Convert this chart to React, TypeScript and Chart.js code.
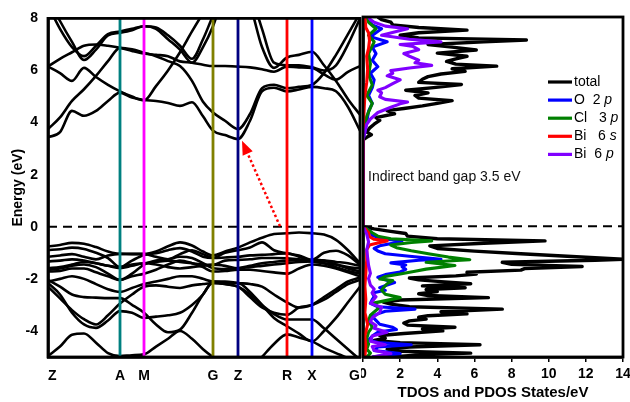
import React, { useEffect, useRef } from 'react';
import { Chart, registerables } from 'chart.js';

Chart.register(...registerables);

const FONT = "Arial, 'Liberation Sans', Helvetica, sans-serif";

// ---------- band structure ----------
const E_MIN = -5;
const E_MAX = 8;
const Y_TICKS = [-4, -2, 0, 2, 4, 6, 8];

const K_POINTS = [0, 72, 96, 165, 190, 239, 264, 312];
const K_LABELS = ['Z', 'A', 'M', 'G', 'Z', 'R', 'X', 'G'];
const K_GRID = [0, 12, 24, 36, 48, 60, 72, 84, 96, 108, 120, 132, 144, 155, 165, 177, 190, 202, 214, 226, 239, 251, 264, 276, 288, 300, 312];

const CB1 = [3.44, 3.63, 4.45, 4.26, 4.45, 4.83, 5.15, 4.96, 4.87, 4.83, 4.75, 4.64, 4.78, 4.24, 3.69, 3.52, 3.37, 4.07, 5.2, 5.34, 5.2, 5.27, 5.37, 5.32, 5.2, 4.6, 3.69];
const CB2 = [3.75, 4.2, 4.83, 5.28, 5.79, 6.36, 6.87, 6.81, 6.68, 6.55, 6.36, 6.17, 5.6, 4.8, 4.39, 4.07, 3.75, 4.33, 5.32, 5.45, 5.32, 5.37, 5.45, 5.9, 6.6, 7.4, 8.2];
const CB3 = [6.15, 5.9, 5.6, 6.1, 5.75, 5.45, 5.2, 5.0, 4.85, 5.4, 6.0, 6.7, 7.5, 8.2, 8.8, 9.2, 9.2, 8.5, 6.9, 6.1, 6.5, 6.6, 6.72, 6.2, 5.6, 4.9, 4.3];
const CB4 = [6.15, 6.45, 6.7, 6.95, 7.0, 6.95, 6.87, 6.75, 6.65, 6.6, 6.55, 6.35, 6.3, 6.22, 6.17, 6.17, 6.15, 6.12, 6.05, 5.95, 6.15, 6.12, 6.1, 5.85, 5.65, 5.95, 6.17];
const CB5 = [8.5, 7.6, 6.9, 6.55, 6.95, 7.4, 7.5, 7.6, 7.7, 7.65, 7.35, 6.95, 6.45, 7.2, 8.1, 9, 9.5, 9.0, 7.6, 6.3, 6.2, 6.2, 6.12, 6.0, 6.2, 7.0, 8.0];
const CB6 = [8.8, 7.9, 7.1, 6.4, 6.8, 7.35, 7.45, 7.55, 7.7, 7.6, 7.2, 6.8, 6.3, 6.9, 7.7, 9, 9.5, 9.5, 9.5, 9.5, 9.5, 9.5, 9.5, 9.5, 9.5, 9.5, 9.5];

const VB1 = [-0.76, -0.7, -0.62, -0.65, -0.78, -0.95, -1.04, -1.04, -1.04, -0.95, -0.75, -0.6, -0.72, -0.95, -1.1, -0.95, -0.8, -0.6, -0.42, -0.28, -0.25, -0.22, -0.25, -0.3, -0.5, -0.9, -1.4];
const VB2 = [-0.89, -0.86, -0.8, -0.85, -1.0, -1.2, -1.55, -1.3, -1.08, -1.02, -0.9, -0.82, -0.95, -1.15, -1.2, -1.0, -0.9, -0.8, -0.6, -0.9, -1.02, -1.1, -1.27, -1.0, -0.92, -1.1, -1.46];
const VB3 = [-1.15, -1.1, -1.05, -1.15, -1.25, -1.1, -1.04, -1.05, -1.05, -1.15, -1.25, -1.05, -0.9, -1.05, -1.2, -1.18, -1.15, -1.1, -1.08, -1.05, -1.02, -1.15, -1.3, -1.3, -1.35, -1.4, -1.5];
const VB4 = [-1.33, -1.3, -1.25, -1.3, -1.4, -1.5, -1.55, -1.45, -1.4, -1.35, -1.3, -1.35, -1.4, -1.45, -1.46, -1.3, -1.27, -1.25, -1.2, -1.2, -1.21, -1.25, -1.33, -1.4, -1.45, -1.55, -1.6];
const VB5 = [-1.65, -1.6, -1.5, -1.45, -1.55, -1.8, -2.04, -1.8, -1.45, -1.3, -1.25, -1.15, -1.2, -1.4, -1.59, -1.62, -1.59, -1.5, -1.4, -1.35, -1.3, -1.28, -1.27, -1.3, -1.45, -1.6, -1.72];
const VB6 = [-1.72, -1.7, -1.6, -1.6, -1.75, -1.9, -2.04, -1.9, -1.8, -1.65, -1.45, -1.3, -1.4, -1.55, -1.72, -1.7, -1.65, -1.65, -1.7, -1.75, -1.8, -1.6, -1.45, -1.5, -1.6, -1.75, -1.9];
const VB7 = [-2.04, -2.3, -2.6, -2.7, -2.72, -2.74, -2.74, -3.0, -3.3, -3.75, -4.05, -3.95, -3.3, -2.6, -2.16, -2.2, -2.3, -2.6, -3.0, -3.35, -3.56, -3.56, -3.56, -3.9, -4.3, -4.7, -5.1];
const VB8 = [-2.16, -2.6, -3.3, -3.75, -3.88, -3.6, -3.24, -3.3, -3.5, -3.45, -3.4, -3.3, -3.0, -2.6, -2.1, -2.15, -2.16, -2.5, -3.0, -3.5, -3.82, -4.1, -4.4, -4.0, -3.5, -2.9, -2.3];
const VB9 = [-2.3, -2.75, -3.2, -3.55, -3.75, -3.4, -2.95, -2.6, -2.3, -2.25, -2.3, -2.35, -2.25, -2.2, -2.16, -2.2, -2.3, -2.7, -3.1, -3.3, -3.38, -3.1, -3.0, -2.7, -2.4, -2.1, -1.95];
const VB10 = [-4.96, -4.6, -4.15, -4.1, -4.45, -4.85, -4.96, -4.93, -4.9, -4.6, -4.3, -4.0, -4.3, -4.7, -5.0, -5.3, -5.6, -5.5, -5.0, -4.5, -4.13, -4.25, -4.4, -4.65, -4.85, -5.05, -5.3];
const VB11 = [-1.59, -1.55, -1.45, -1.35, -1.4, -1.5, -1.59, -1.5, -1.4, -1.45, -1.55, -1.6, -1.55, -1.5, -1.46, -1.5, -1.59, -1.55, -1.5, -1.45, -1.4, -1.35, -1.33, -1.4, -1.55, -1.7, -1.8];
const VB12 = [-2.1, -2.0, -1.9, -2.0, -2.2, -2.4, -2.5, -2.35, -2.2, -2.1, -2.0, -1.9, -1.9, -2.0, -2.1, -2.1, -2.16, -2.2, -2.3, -2.6, -2.9, -3.1, -3.0, -2.8, -2.5, -2.2, -2.04];

const BANDS = [CB1, CB2, CB3, CB4, CB5, CB6, VB1, VB2, VB3, VB4, VB5, VB6, VB7, VB8, VB9, VB10, VB11, VB12];

// high-symmetry vertical lines (A, M, G, Z, R, X)
const VLINE_K = [72, 96, 165, 190, 239, 264];
const VLINE_COLORS = ['#008080', '#ff00ff', '#808000', '#000080', '#ff0000', '#0000ff'];

// indirect gap arrow (k, E)
const ARROW_FROM = [232, 0.02];
const ARROW_TO = [194, 3.3];

// ---------- density of states: [energy (eV), states/eV] ----------
const DOS_MAX = 14;

const DOS_TOTAL = [
  [-5.0, 1.5], [-4.92, 3.0], [-4.85, 5.8], [-4.78, 2.0], [-4.7, 1.3], [-4.62, 2.5], [-4.53, 6.3], [-4.45, 2.0],
  [-4.37, 0.6], [-4.28, 1.2], [-4.18, 0.9], [-4.1, 2.2], [-4.0, 4.3], [-3.93, 3.2], [-3.86, 4.95], [-3.78, 2.4],
  [-3.7, 2.2], [-3.62, 2.5], [-3.55, 3.4], [-3.48, 3.0], [-3.42, 3.5], [-3.35, 5.6], [-3.27, 4.2], [-3.17, 7.5],
  [-3.08, 2.5], [-2.98, 1.5], [-2.9, 1.1], [-2.82, 2.0], [-2.73, 6.75], [-2.65, 3.5], [-2.58, 3.0], [-2.5, 4.0],
  [-2.42, 3.4], [-2.35, 5.5], [-2.28, 3.2], [-2.2, 5.8], [-2.12, 4.2], [-2.05, 3.0], [-1.98, 2.5], [-1.9, 5.0],
  [-1.83, 6.1], [-1.76, 5.6], [-1.68, 8.5], [-1.62, 8.7], [-1.54, 11.8], [-1.46, 8.0], [-1.38, 7.5], [-1.3, 12.5],
  [-1.26, 14.0], [-1.15, 11.0], [-1.05, 8.5], [-0.95, 6.0], [-0.85, 4.0], [-0.75, 3.6], [-0.65, 6.5], [-0.56, 9.8],
  [-0.48, 4.0], [-0.38, 2.4], [-0.28, 2.3], [-0.18, 1.3], [-0.1, 0.6], [-0.02, 0], [3.3, 0], [3.4, 0.2],
  [3.5, 0.45], [3.6, 0.2], [3.75, 0.35], [3.9, 0.6], [4.05, 0.9], [4.15, 0.7], [4.3, 1.7], [4.42, 1.3],
  [4.5, 2.2], [4.6, 3.2], [4.7, 4.0], [4.8, 4.8], [4.9, 3.0], [5.0, 2.8], [5.1, 3.5], [5.2, 2.3],
  [5.3, 3.8], [5.42, 5.3], [5.5, 3.0], [5.62, 3.2], [5.72, 3.5], [5.82, 4.2], [5.92, 5.5], [6.02, 4.8],
  [6.12, 7.2], [6.2, 5.0], [6.3, 4.5], [6.4, 5.0], [6.5, 5.6], [6.62, 4.0], [6.74, 6.1], [6.85, 4.8],
  [6.95, 3.5], [7.05, 6.5], [7.12, 8.8], [7.2, 3.0], [7.3, 2.0], [7.4, 3.0], [7.5, 5.6], [7.6, 3.0],
  [7.7, 1.6], [7.8, 1.5], [7.9, 1.0], [8.0, 0.8],
];

const DOS_O2P = [
  [-5.0, 0.5], [-4.87, 2.0], [-4.75, 0.6], [-4.62, 0.8], [-4.53, 2.6], [-4.45, 0.8], [-4.35, 0.3], [-4.2, 0.5],
  [-4.05, 0.8], [-3.95, 1.8], [-3.86, 1.6], [-3.75, 0.9], [-3.6, 0.7], [-3.45, 0.5], [-3.35, 0.8], [-3.25, 1.2],
  [-3.17, 2.8], [-3.08, 0.8], [-2.95, 0.4], [-2.8, 0.5], [-2.7, 0.6], [-2.55, 0.5], [-2.45, 1.2], [-2.35, 0.9],
  [-2.25, 1.3], [-2.15, 1.7], [-2.05, 1.2], [-1.95, 0.8], [-1.85, 1.2], [-1.75, 2.0], [-1.65, 2.3], [-1.55, 2.1],
  [-1.48, 2.3], [-1.4, 1.5], [-1.3, 3.0], [-1.26, 4.2], [-1.15, 2.5], [-1.05, 1.2], [-0.95, 0.8], [-0.85, 0.6],
  [-0.75, 0.9], [-0.65, 1.6], [-0.56, 2.1], [-0.48, 1.0], [-0.35, 0.5], [-0.2, 0.4], [-0.05, 0.1], [0, 0],
  [3.3, 0], [3.6, 0.1], [4.0, 0.2], [4.4, 0.3], [4.7, 0.5], [5.0, 0.3], [5.3, 0.5], [5.6, 0.6],
  [5.85, 0.4], [6.1, 0.8], [6.35, 0.5], [6.6, 0.7], [6.85, 0.5], [7.05, 1.3], [7.25, 0.4], [7.5, 0.9],
  [7.55, 1.0], [7.7, 0.5], [7.9, 0.3], [8.0, 0.2],
];

const DOS_CL3P = [
  [-5.0, 0.2], [-4.85, 0.4], [-4.7, 0.2], [-4.5, 0.3], [-4.3, 0.2], [-4.05, 0.3], [-3.86, 0.5], [-3.6, 0.3],
  [-3.4, 0.4], [-3.1, 0.9], [-2.95, 0.5], [-2.73, 2.0], [-2.6, 1.2], [-2.45, 1.0], [-2.35, 1.1], [-2.2, 1.3],
  [-2.08, 1.6], [-2.02, 0.9], [-1.92, 1.2], [-1.83, 2.0], [-1.72, 2.8], [-1.64, 3.4], [-1.5, 4.95], [-1.38, 3.4],
  [-1.28, 5.75], [-1.18, 4.6], [-1.06, 3.6], [-0.94, 2.6], [-0.82, 1.8], [-0.72, 1.5], [-0.62, 2.6], [-0.56, 3.7],
  [-0.48, 1.5], [-0.38, 0.8], [-0.25, 0.5], [-0.1, 0.2], [0, 0], [3.3, 0], [3.8, 0.1], [4.2, 0.2],
  [4.7, 0.5], [5.0, 0.2], [5.4, 0.5], [5.8, 0.3], [6.2, 0.4], [6.6, 0.3], [7.05, 0.6], [7.3, 0.3],
  [7.55, 0.7], [7.8, 0.3], [8.0, 0.2],
];

const DOS_BI6S = [
  [-5.0, 0.1], [-4.6, 0.15], [-4.2, 0.1], [-3.75, 0.25], [-3.3, 0.1], [-2.8, 0.15], [-2.3, 0.1], [-1.8, 0.15],
  [-1.3, 0.2], [-0.9, 0.2], [-0.72, 0.35], [-0.62, 0.9], [-0.56, 1.3], [-0.5, 0.6], [-0.4, 0.35], [-0.25, 0.3],
  [-0.12, 0.15], [0, 0], [3.3, 0], [4.0, 0.05], [5.0, 0.1], [5.5, 0.2], [6.0, 0.25], [6.5, 0.2],
  [6.8, 0.3], [7.1, 0.35], [7.4, 0.3], [7.6, 0.15], [8.0, 0.1],
];

const DOS_BI6P = [
  [-5.0, 0.5], [-4.87, 1.5], [-4.75, 0.6], [-4.6, 0.5], [-4.53, 1.2], [-4.4, 0.4], [-4.2, 0.5], [-4.05, 1.3],
  [-3.9, 0.6], [-3.8, 0.7], [-3.65, 0.4], [-3.5, 0.5], [-3.3, 0.9], [-3.1, 1.0], [-2.95, 0.4], [-2.7, 0.7],
  [-2.55, 0.5], [-2.4, 0.6], [-2.25, 0.4], [-2.0, 0.3], [-1.8, 0.4], [-1.5, 0.3], [-1.2, 0.25], [-0.9, 0.2],
  [-0.6, 0.3], [-0.3, 0.2], [0, 0], [3.3, 0], [3.6, 0.1], [3.9, 0.2], [4.1, 0.4], [4.35, 0.8],
  [4.55, 1.5], [4.68, 2.0], [4.75, 2.4], [4.85, 1.2], [4.95, 0.9], [5.1, 1.0], [5.2, 0.8], [5.3, 1.2],
  [5.45, 1.6], [5.6, 2.0], [5.75, 1.3], [5.85, 1.6], [5.95, 1.5], [6.05, 2.5], [6.15, 3.7], [6.25, 2.8],
  [6.35, 3.0], [6.5, 2.5], [6.6, 2.2], [6.75, 3.0], [6.87, 2.7], [6.95, 2.0], [7.05, 4.2], [7.15, 2.5],
  [7.3, 1.0], [7.45, 1.8], [7.55, 2.4], [7.65, 1.2], [7.8, 0.6], [7.9, 0.4], [8.0, 0.3],
];

const DOS_SERIES = [DOS_BI6P, DOS_BI6S, DOS_CL3P, DOS_O2P, DOS_TOTAL];
const DOS_COLORS = ['#8000ff', '#ff0000', '#008000', '#0000ff', '#000000'];

const LEGEND_ITEMS = [['total', ''], ['O  2 ', 'p'], ['Cl   3 ', 'p'], ['Bi   6 ', 's'], ['Bi  6 ', 'p']];
const LEGEND_COLORS = ['#000000', '#0000ff', '#008000', '#ff0000', '#8000ff'];
const GAP_TEXT = 'Indirect band gap 3.5 eV';

const framePlugin = {
  id: 'frame',
  afterDraw(chart: any) {
    const { ctx, chartArea: a } = chart;
    ctx.save();
    ctx.strokeStyle = '#000';
    ctx.lineWidth = 2.8;
    ctx.strokeRect(a.left, a.top, a.right - a.left, a.bottom - a.top);
    ctx.restore();
  },
};

export default function App() {
  const bandRef = useRef<HTMLCanvasElement | null>(null);
  const dosRef = useRef<HTMLCanvasElement | null>(null);

  useEffect(() => {
    Chart.defaults.font.family = FONT;
    Chart.defaults.color = '#000';

    const arrowPlugin = {
      id: 'gapArrow',
      afterDatasetsDraw(chart: any) {
        const { ctx, scales } = chart;
        const x1 = scales.x.getPixelForValue(ARROW_FROM[0]);
        const y1 = scales.y.getPixelForValue(ARROW_FROM[1]);
        const x2 = scales.x.getPixelForValue(ARROW_TO[0]);
        const y2 = scales.y.getPixelForValue(ARROW_TO[1]);
        const ang = Math.atan2(y2 - y1, x2 - x1);
        const headLen = 14;
        const headW = 5.5;
        const bx = x2 - headLen * Math.cos(ang);
        const by = y2 - headLen * Math.sin(ang);
        ctx.save();
        ctx.strokeStyle = '#ff0000';
        ctx.fillStyle = '#ff0000';
        ctx.lineWidth = 2.5;
        ctx.setLineDash([2.5, 2.5]);
        ctx.beginPath();
        ctx.moveTo(x1, y1);
        ctx.lineTo(bx, by);
        ctx.stroke();
        ctx.setLineDash([]);
        ctx.beginPath();
        ctx.moveTo(x2, y2);
        ctx.lineTo(bx + headW * Math.sin(ang), by - headW * Math.cos(ang));
        ctx.lineTo(bx - headW * Math.sin(ang), by + headW * Math.cos(ang));
        ctx.closePath();
        ctx.fill();
        ctx.restore();
      },
    };

    const legendPlugin = {
      id: 'dosLegend',
      afterDraw(chart: any) {
        const { ctx, chartArea: a } = chart;
        ctx.save();
        ctx.textBaseline = 'middle';
        LEGEND_ITEMS.forEach((item, i) => {
          const y = a.top + 65 + i * 18.1;
          ctx.strokeStyle = LEGEND_COLORS[i];
          ctx.lineWidth = 3.2;
          ctx.beginPath();
          ctx.moveTo(a.left + 185, y);
          ctx.lineTo(a.left + 209, y);
          ctx.stroke();
          ctx.fillStyle = '#000';
          ctx.font = `14px ${FONT}`;
          const tx = a.left + 211;
          ctx.fillText(item[0], tx, y);
          if (item[1]) {
            const w = ctx.measureText(item[0]).width;
            ctx.font = `italic 14px ${FONT}`;
            ctx.fillText(item[1], tx + w, y);
          }
        });
        ctx.font = `14px ${FONT}`;
        ctx.fillStyle = '#111';
        ctx.fillText(GAP_TEXT, a.left + 5, a.top + 160);
        ctx.restore();
      },
    };

    const bandDatasets: any[] = [
      ...BANDS.map((b) => ({
        data: K_GRID.map((k, i) => ({ x: k, y: b[i] })),
        borderColor: '#000',
        borderWidth: 2.6,
        cubicInterpolationMode: 'monotone',
        order: 3,
      })),
      {
        data: [{ x: K_POINTS[0], y: 0 }, { x: K_POINTS[K_POINTS.length - 1], y: 0 }],
        borderColor: '#000',
        borderWidth: 2.2,
        borderDash: [9, 6],
        order: 2,
      },
      ...VLINE_K.map((k, i) => ({
        data: [{ x: k, y: E_MIN }, { x: k, y: E_MAX }],
        borderColor: VLINE_COLORS[i],
        borderWidth: 2.8,
        order: 1,
      })),
    ].map((d) => ({ ...d, showLine: true, pointRadius: 0, pointHoverRadius: 0 }));

    const band = new Chart(bandRef.current!, {
      type: 'scatter',
      data: { datasets: bandDatasets },
      options: {
        responsive: false,
        animation: false,
        devicePixelRatio: 1,
        events: [],
        layout: { padding: { top: 17, right: 2, left: 0, bottom: 0 } },
        plugins: { legend: { display: false }, tooltip: { enabled: false } },
        scales: {
          x: {
            type: 'linear',
            min: K_POINTS[0],
            max: K_POINTS[K_POINTS.length - 1],
            afterBuildTicks: (s: any) => {
              s.ticks = K_POINTS.map((v) => ({ value: v }));
            },
            afterFit: (s: any) => {
              s.height = 45;
              s.paddingLeft = 0;
              s.paddingRight = 0;
            },
            ticks: {
              autoSkip: false,
              maxRotation: 0,
              align: 'inner',
              padding: 11,
              font: { size: 14, weight: 'bold' },
              callback: (_v: any, i: number) => K_LABELS[i],
            },
            grid: { display: false, drawTicks: false },
            border: { display: true, color: '#000', width: 2.8 },
          },
          y: {
            type: 'linear',
            min: E_MIN,
            max: E_MAX,
            afterBuildTicks: (s: any) => {
              s.ticks = Y_TICKS.map((v) => ({ value: v }));
            },
            afterFit: (s: any) => {
              s.width = 48;
            },
            ticks: {
              padding: 10,
              font: { size: 14, weight: 'bold' },
              callback: (v: any) => String(v),
            },
            grid: { display: false, drawTicks: false },
            border: { display: true, color: '#000', width: 2.8 },
            title: {
              display: true,
              text: 'Energy (eV)',
              font: { size: 14, weight: 'bold' },
              padding: { top: 10, bottom: 0 },
            },
          },
        },
      } as any,
      plugins: [arrowPlugin, framePlugin],
    });

    const dosDatasets: any[] = [
      ...DOS_SERIES.map((s, i) => ({
        data: s.map((p) => ({ x: p[1], y: p[0] })),
        borderColor: DOS_COLORS[i],
        borderWidth: i === DOS_SERIES.length - 1 ? 3.4 : 3.1,
        borderJoinStyle: 'round',
        order: i + 1,
      })),
      {
        data: [{ x: 0, y: 0 }, { x: DOS_MAX, y: 0 }],
        borderColor: '#000',
        borderWidth: 2.2,
        borderDash: [9, 6],
        order: 0,
      },
    ].map((d) => ({ ...d, showLine: true, pointRadius: 0, pointHoverRadius: 0 }));

    const dos = new Chart(dosRef.current!, {
      type: 'scatter',
      data: { datasets: dosDatasets },
      options: {
        responsive: false,
        animation: false,
        devicePixelRatio: 1,
        events: [],
        layout: { padding: { top: 17, right: 7, left: 0, bottom: 0 } },
        plugins: { legend: { display: false }, tooltip: { enabled: false } },
        scales: {
          x: {
            type: 'linear',
            min: 0,
            max: DOS_MAX,
            afterFit: (s: any) => {
              s.height = 45;
              s.paddingLeft = 0;
              s.paddingRight = 0;
            },
            ticks: { stepSize: 2, padding: 4, maxRotation: 0, font: { size: 14, weight: 'bold' } },
            grid: { display: true, drawOnChartArea: false, drawTicks: true, tickLength: 5, color: '#000', lineWidth: 1.5 },
            border: { display: true, color: '#000', width: 2.8 },
            title: {
              display: true,
              text: 'TDOS and PDOS States/eV',
              font: { size: 15, weight: 'bold' },
              padding: { top: 0, bottom: 0 },
            },
          },
          y: {
            type: 'linear',
            min: E_MIN,
            max: E_MAX,
            afterFit: (s: any) => {
              s.width = 2;
            },
            ticks: { display: false },
            grid: { display: false, drawTicks: false },
            border: { display: true, color: '#000', width: 2.8 },
          },
        },
      } as any,
      plugins: [legendPlugin, framePlugin],
    });

    return () => {
      band.destroy();
      dos.destroy();
    };
  }, []);

  return (
    <div style={{ position: 'absolute', left: 0, top: 0, width: 630, height: 402, background: '#fff' }}>
      <canvas
        ref={bandRef}
        width={362}
        height={402}
        style={{ position: 'absolute', left: 0, top: 0, width: 362, height: 402 }}
      />
      <canvas
        ref={dosRef}
        width={269}
        height={402}
        style={{ position: 'absolute', left: 361, top: 0, width: 269, height: 402 }}
      />
    </div>
  );
}
